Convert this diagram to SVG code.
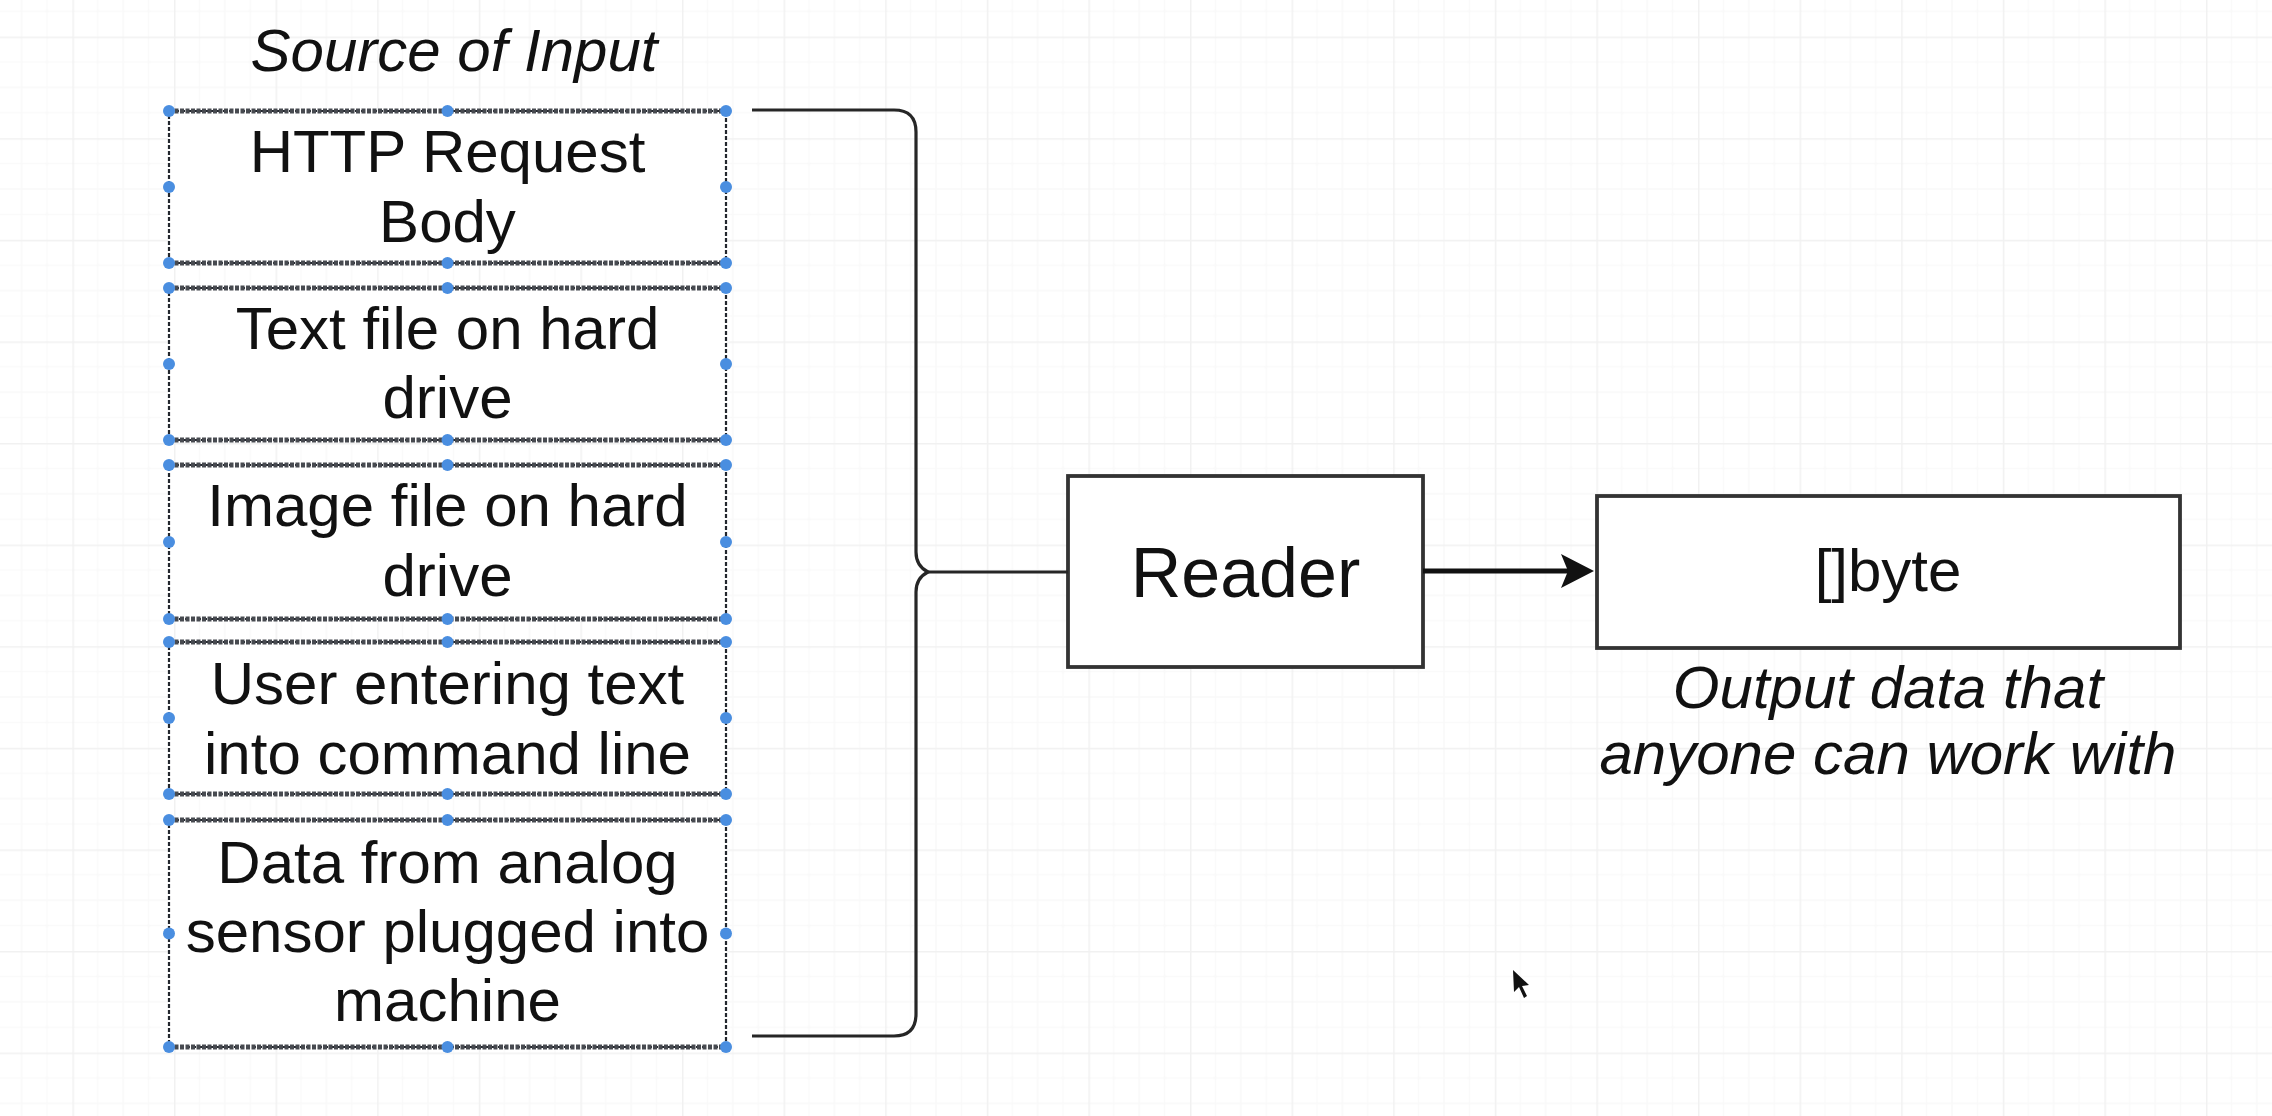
<svg xmlns="http://www.w3.org/2000/svg" width="2272" height="1116" viewBox="0 0 2272 1116">
<defs>
<pattern id="grid" patternUnits="userSpaceOnUse" x="72.4" y="36.6" width="101.6" height="101.6">
<path d="M25.4,0V101.6M50.8,0V101.6M76.2,0V101.6M0,25.4H101.6M0,50.8H101.6M0,76.2H101.6" stroke="#f9f9f9" stroke-width="1.5" fill="none"/>
<path d="M0.75,0V101.6M0,0.75H101.6" stroke="#f1f1f1" stroke-width="1.5" fill="none"/>
</pattern>
<marker id="arrow" markerUnits="userSpaceOnUse" viewBox="-34 -18 36 36" markerWidth="36" markerHeight="36" refX="-26" refY="0" orient="auto">
<path d="M0,0 L-33,-17 L-26,0 L-33,17 Z" fill="#111"/>
</marker>
</defs>
<style>
.t{font-family:"Liberation Sans",Arial,Helvetica,sans-serif;fill:#111;text-anchor:middle}
.box{font-size:60px}
.cap{font-size:60px;font-style:italic}
.side{fill:#fff;stroke:#23272e;stroke-width:2.2;stroke-dasharray:4 2}
.edge{stroke:#474a50;stroke-width:5;stroke-dasharray:4 1.5;fill:none}
.h{fill:#4a8ee0}
.solid{fill:#fff;stroke:#333;stroke-width:3.8}
.conn{fill:none;stroke:#262626;stroke-width:3.2}
</style>
<rect width="2272" height="1116" fill="#fff"/>
<rect width="2272" height="1116" fill="url(#grid)"/>

<text class="t cap" x="454" y="71">Source of Input</text>

<g id="src-http">
<rect class="side" x="169" y="111" width="557" height="152"/>
<path class="edge" d="M169,111H726M169,263H726"/>
<g class="h"><circle cx="169" cy="111" r="6"/><circle cx="447.5" cy="111" r="6"/><circle cx="726" cy="111" r="6"/><circle cx="169" cy="187" r="6"/><circle cx="726" cy="187" r="6"/><circle cx="169" cy="263" r="6"/><circle cx="447.5" cy="263" r="6"/><circle cx="726" cy="263" r="6"/></g>
<text class="t box" x="447.5" y="172">HTTP Request</text>
<text class="t box" x="447.5" y="242">Body</text>
</g>

<g id="src-textfile">
<rect class="side" x="169" y="288" width="557" height="152"/>
<path class="edge" d="M169,288H726M169,440H726"/>
<g class="h"><circle cx="169" cy="288" r="6"/><circle cx="447.5" cy="288" r="6"/><circle cx="726" cy="288" r="6"/><circle cx="169" cy="364" r="6"/><circle cx="726" cy="364" r="6"/><circle cx="169" cy="440" r="6"/><circle cx="447.5" cy="440" r="6"/><circle cx="726" cy="440" r="6"/></g>
<text class="t box" x="447.5" y="349">Text file on hard</text>
<text class="t box" x="447.5" y="418">drive</text>
</g>

<g id="src-imagefile">
<rect class="side" x="169" y="465" width="557" height="154"/>
<path class="edge" d="M169,465H726M169,619H726"/>
<g class="h"><circle cx="169" cy="465" r="6"/><circle cx="447.5" cy="465" r="6"/><circle cx="726" cy="465" r="6"/><circle cx="169" cy="542" r="6"/><circle cx="726" cy="542" r="6"/><circle cx="169" cy="619" r="6"/><circle cx="447.5" cy="619" r="6"/><circle cx="726" cy="619" r="6"/></g>
<text class="t box" x="447.5" y="526">Image file on hard</text>
<text class="t box" x="447.5" y="596">drive</text>
</g>

<g id="src-user">
<rect class="side" x="169" y="642" width="557" height="152"/>
<path class="edge" d="M169,642H726M169,794H726"/>
<g class="h"><circle cx="169" cy="642" r="6"/><circle cx="447.5" cy="642" r="6"/><circle cx="726" cy="642" r="6"/><circle cx="169" cy="718" r="6"/><circle cx="726" cy="718" r="6"/><circle cx="169" cy="794" r="6"/><circle cx="447.5" cy="794" r="6"/><circle cx="726" cy="794" r="6"/></g>
<text class="t box" x="447.5" y="704">User entering text</text>
<text class="t box" x="447.5" y="774">into command line</text>
</g>

<g id="src-sensor">
<rect class="side" x="169" y="820" width="557" height="227"/>
<path class="edge" d="M169,820H726M169,1047H726"/>
<g class="h"><circle cx="169" cy="820" r="6"/><circle cx="447.5" cy="820" r="6"/><circle cx="726" cy="820" r="6"/><circle cx="169" cy="933.5" r="6"/><circle cx="726" cy="933.5" r="6"/><circle cx="169" cy="1047" r="6"/><circle cx="447.5" cy="1047" r="6"/><circle cx="726" cy="1047" r="6"/></g>
<text class="t box" x="447.5" y="883">Data from analog</text>
<text class="t box" x="447.5" y="952">sensor plugged into</text>
<text class="t box" x="447.5" y="1021">machine</text>
</g>

<g id="brace">
<path class="conn" d="M752,110H894Q916,110 916,132V552Q916,566 928,572Q916,578 916,592V1014Q916,1036 894,1036H752"/>
</g>

<g id="reader">
<rect class="solid" x="1068" y="476" width="355" height="191"/>
<text class="t" x="1245.5" y="597" font-size="70">Reader</text>
</g>

<g id="bytes">
<rect class="solid" x="1597" y="496" width="583" height="152"/>
<text class="t box" x="1888" y="591">[]byte</text>
<text class="t cap" x="1888" y="708">Output data that</text>
<text class="t cap" x="1888" y="774">anyone can work with</text>
</g>

<g id="connectors">
<path class="conn" d="M928,572H1068"/>
<path d="M1423,571H1568" stroke="#111" stroke-width="5" fill="none" marker-end="url(#arrow)"/>
</g>

<path d="M1513,970 L1514,992 L1519,987 L1524,998 L1527,996 L1522,986 L1529,985 Z" fill="#111"/>
</svg>
